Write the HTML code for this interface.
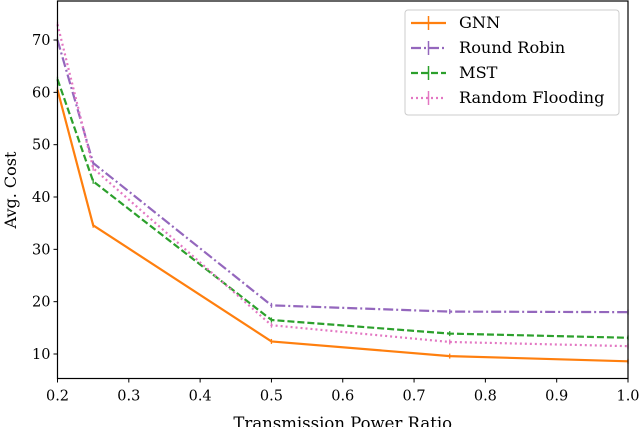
<!DOCTYPE html>
<html><head><meta charset="utf-8"><style>
body{margin:0;background:#fff}
svg{display:block;font-family:"DejaVu Serif","Liberation Serif",serif}
</style></head><body>
<svg id="chart" width="640" height="427"></svg>
<script>
const xValues=[0.2,0.25,0.5,0.75,1.0];
const gnn=[60.5,34.6,12.4,9.6,8.6];
const roundRobin=[70,46.5,19.3,18.1,18.0];
const mst=[62.5,43,16.5,13.9,13.1];
const randomFlooding=[73,45.5,15.5,12.3,11.5];
const xTicks=[0.2,0.3,0.4,0.5,0.6,0.7,0.8,0.9,1.0];
const yTicks=[10,20,30,40,50,60,70];
const seriesNames=["GNN","Round Robin","MST","Random Flooding"];
const ns="http://www.w3.org/2000/svg";
const svg=document.getElementById('chart');
const L=57.5,R=628,T=1,B=378.5;
const xs=v=>L+(v-0.2)/0.8*(R-L);
const ys=v=>354-(v-10)*5.233;
function mk(t,a){const e=document.createElementNS(ns,t);for(const k in a)e.setAttribute(k,a[k]);svg.appendChild(e);return e;}
const styles=[
 {c:"#ff7f0e",d:"",data:gnn,key:"gnn"},
 {c:"#9467bd",d:"10,3,2,3",data:roundRobin,key:"round-robin"},
 {c:"#2ca02c",d:"7,3",data:mst,key:"mst"},
 {c:"#e377c2",d:"2,3",data:randomFlooding,key:"random-flooding"}];
styles.forEach(s=>{
 const pts=xValues.map((x,i)=>xs(x)+","+ys(s.data[i])).join(" ");
 const pl=mk('polyline',{points:pts,fill:"none",stroke:s.c,"stroke-width":2.2,"stroke-dasharray":s.d});
 
 
 xValues.forEach((x,i)=>{
  const e=mk('line',{x1:xs(x),x2:xs(x),y1:ys(s.data[i])-2.5,y2:ys(s.data[i])+2.5,stroke:s.c,"stroke-width":1.3});
  
  
 });
});
const fr=mk('rect',{x:L,y:T,width:R-L,height:B-T,fill:"none",stroke:"#000","stroke-width":1.2});


xTicks.forEach(t=>{
 const x=xs(t);
 mk('line',{x1:x,x2:x,y1:B,y2:B+4,stroke:"#000"});
 const tx=mk('text',{x:x,y:B+22,"text-anchor":"middle","font-size":14.5});
 tx.textContent=t.toFixed(1);
 
 
});
yTicks.forEach(t=>{
 const y=ys(t);
 mk('line',{x1:L-4,x2:L,y1:y,y2:y,stroke:"#000"});
 const tx=mk('text',{x:L-7,y:y+5,"text-anchor":"end","font-size":14.5});
 tx.textContent=t;
 
 
});
const xt=mk('text',{x:(L+R)/2,y:429,"text-anchor":"middle","font-size":16.5});
xt.textContent="Transmission Power Ratio";


const yt=mk('text',{x:0,y:0,"text-anchor":"middle","font-size":16,transform:"translate(16,190) rotate(-90)"});
yt.textContent="Avg. Cost";


const lg=mk('rect',{x:405,y:10,width:214,height:105,rx:3,fill:"#fff",stroke:"#ccc","fill-opacity":0.9});


styles.forEach((s,i)=>{
 const y=23+i*25;
 mk('line',{x1:411,x2:446,y1:y,y2:y,stroke:s.c,"stroke-width":2.2,"stroke-dasharray":s.d});
 mk('line',{x1:428.5,x2:428.5,y1:y-7,y2:y+7,stroke:s.c,"stroke-width":1.5});
 const tx=mk('text',{x:459,y:y+5,"font-size":16.2});
 tx.textContent=seriesNames[i];
 
 
});
</script>
</body></html>
